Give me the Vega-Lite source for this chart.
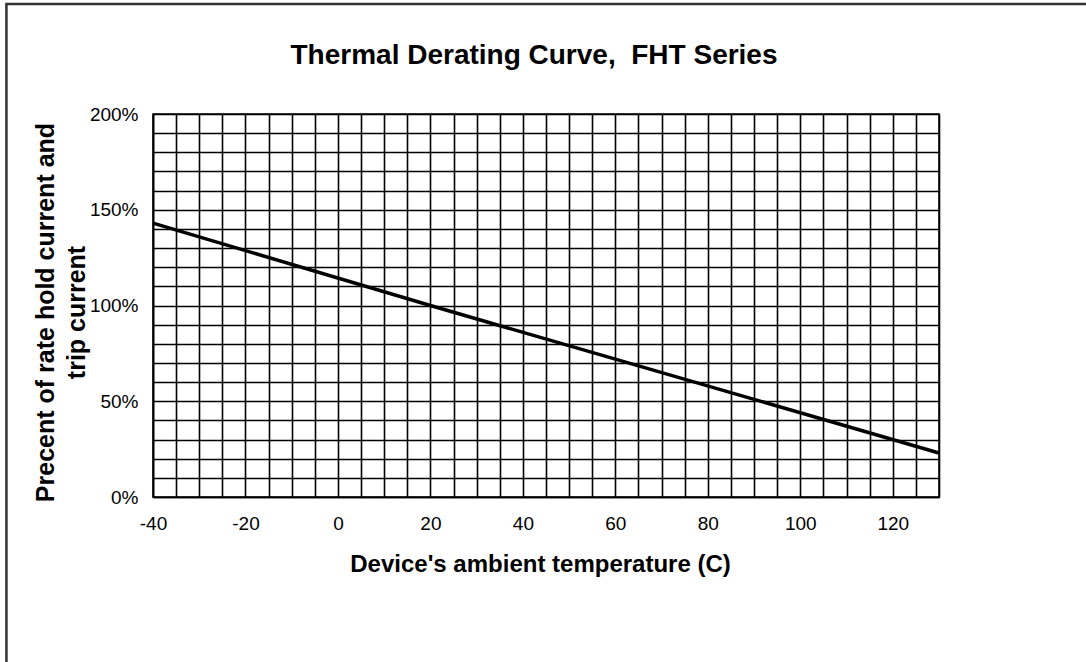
{
  "$schema": "https://vega.github.io/schema/vega-lite/v6.json",
  "autosize": "none",
  "width": 786,
  "height": 383,
  "padding": {"left": 153, "top": 114, "right": 147, "bottom": 165},
  "background": "white",
  "title": {
    "text": "Thermal Derating Curve,\u00a0 FHT Series",
    "font": "Liberation Sans",
    "fontSize": 28,
    "fontWeight": "bold",
    "color": "black",
    "anchor": "middle",
    "frame": "group",
    "offset": 0,
    "dy": 67,
    "dx": -12
  },
  "config": {
    "view": {"stroke": "black", "strokeWidth": 1.5},
    "axis": {
      "labelFont": "Liberation Sans",
      "titleFont": "Liberation Sans",
      "labelColor": "black",
      "titleColor": "black",
      "grid": true,
      "gridColor": "black",
      "gridOpacity": 1,
      "gridWidth": 1.6,
      "domainColor": "black",
      "domainWidth": 1.6,
      "ticks": false
    }
  },
  "datasets": {
    "curve": [
      {"temp": -40, "pct": 143},
      {"temp": 20, "pct": 100},
      {"temp": 130, "pct": 23}
    ],
    "frame": [{"k": 1}]
  },
  "layer": [
    {
      "data": {"name": "curve"},
      "mark": {"type": "line", "color": "black", "strokeWidth": 3.5},
      "encoding": {
        "x": {
          "field": "temp",
          "type": "quantitative",
          "scale": {"domain": [-40, 130], "nice": false, "zero": false},
          "axis": {
            "values": [-40,-35,-30,-25,-20,-15,-10,-5,0,5,10,15,20,25,30,35,40,45,50,55,60,65,70,75,80,85,90,95,100,105,110,115,120,125,130],
            "labelExpr": "datum.value % 20 == 0 ? replace(datum.label, '−', '-') : ''",
            "labelFontSize": 19,
            "labelPadding": 17,
            "labelFlush": false,
            "title": "Device's ambient temperature (C)",
            "titleFontSize": 24,
            "titleFontWeight": "bold",
            "titlePadding": 19,
            "titleX": 387
          }
        },
        "y": {
          "field": "pct",
          "type": "quantitative",
          "scale": {"domain": [0, 200], "nice": false},
          "axis": {
            "values": [0,10,20,30,40,50,60,70,80,90,100,110,120,130,140,150,160,170,180,190,200],
            "labelExpr": "datum.value % 50 == 0 ? datum.value + '%' : ''",
            "labelFontSize": 19,
            "labelPadding": 15,
            "labelFlush": false,
            "title": ["Precent of rate hold current and", "trip current"],
            "titleFontSize": 25,
            "titleFontWeight": "bold",
            "titleLineHeight": 31,
            "titleX": -108,
            "titleY": 198,
            "titleBaseline": "middle"
          }
        }
      }
    },
    {
      "data": {"name": "frame"},
      "mark": {"type": "rect", "fill": null, "stroke": "#333333", "strokeWidth": 2.5, "clip": false},
      "encoding": {
        "x": {
          "datum": -71.7,
          "type": "quantitative",
          "axis": {
            "values": [-40,-35,-30,-25,-20,-15,-10,-5,0,5,10,15,20,25,30,35,40,45,50,55,60,65,70,75,80,85,90,95,100,105,110,115,120,125,130],
            "labelExpr": "datum.value % 20 == 0 ? replace(datum.label, '−', '-') : ''",
            "labelFontSize": 19,
            "labelPadding": 17,
            "labelFlush": false,
            "title": "Device's ambient temperature (C)",
            "titleFontSize": 24,
            "titleFontWeight": "bold",
            "titlePadding": 19,
            "titleX": 387
          }
        },
        "x2": {"datum": 300},
        "y": {
          "datum": 257.5,
          "type": "quantitative",
          "axis": {
            "values": [0,10,20,30,40,50,60,70,80,90,100,110,120,130,140,150,160,170,180,190,200],
            "labelExpr": "datum.value % 50 == 0 ? datum.value + '%' : ''",
            "labelFontSize": 19,
            "labelPadding": 15,
            "labelFlush": false,
            "title": ["Precent of rate hold current and", "trip current"],
            "titleFontSize": 25,
            "titleFontWeight": "bold",
            "titleLineHeight": 31,
            "titleX": -108,
            "titleY": 198,
            "titleBaseline": "middle"
          }
        },
        "y2": {"datum": -300}
      }
    }
  ]
}
